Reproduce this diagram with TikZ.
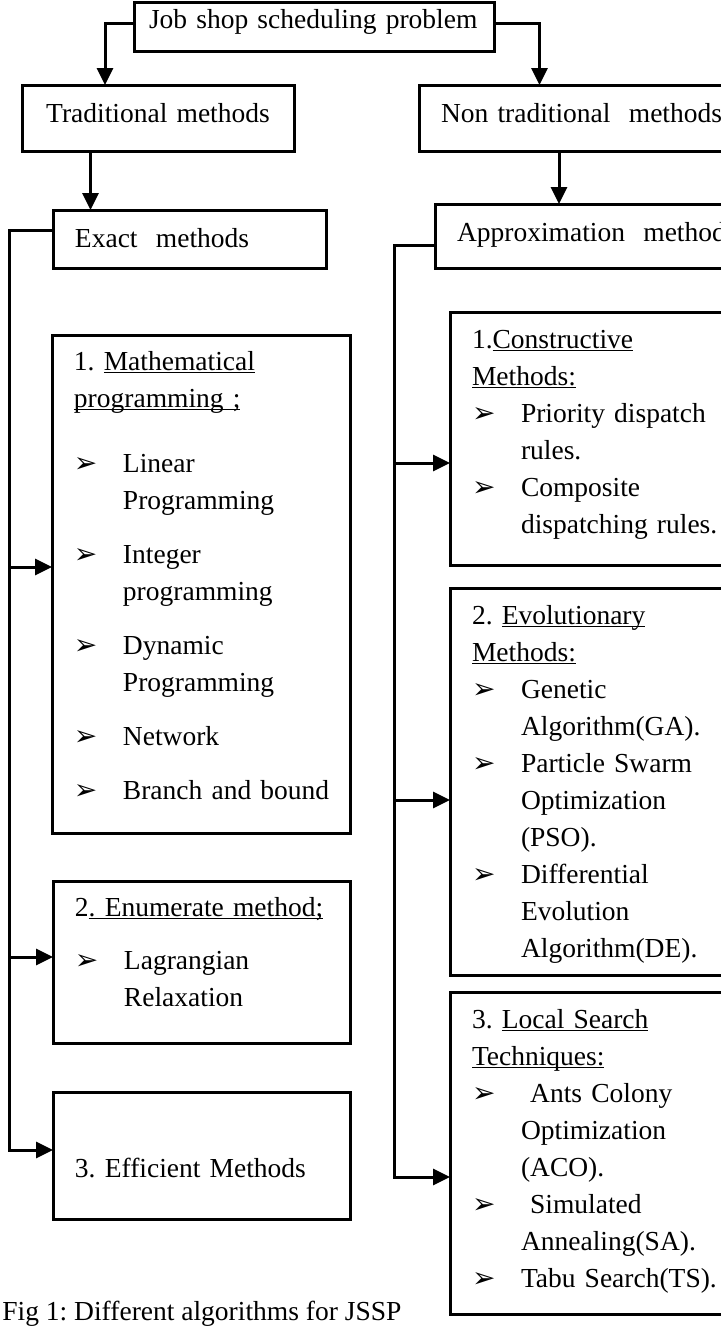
\documentclass[tikz,border=0pt]{standalone}
\usepackage{fontspec}
\setmainfont{Liberation Serif}
\newfontfamily\dingfont{DejaVu Sans}
\usepackage{tikz}
\usetikzlibrary{positioning, arrows.meta, calc}
\newdimen\px
\px=0.5pt
\newcommand{\pnt}{\makebox[49\px][l]{\dingfont\fontsize{14pt}{14pt}\selectfont ➢}}
\newcommand{\ind}{\hspace*{49\px}}
\newcommand{\undl}[1]{\leavevmode\setbox0\hbox{#1}\rlap{\rule[-3\px]{\wd0}{1.5\px}}\box0}
\frenchspacing
\tikzset{
  block/.style={
    draw,
    rectangle,
    line width=1.5pt,
    inner xsep=11pt,
    inner ysep=0pt,
    outer sep=0pt,
    anchor=north west,
    align=left
  },
  link/.style={
    line width=1.5pt,
    -{Triangle[length=8.5pt, width=8pt]}
  }
}

\begin{document}
\begin{tikzpicture}[x=0.5pt, y=-0.5pt, every node/.style={font=\fontsize{13.75pt}{18.5pt}\selectfont}]
    \useasboundingbox (0,0) rectangle (720,1330);

    % top levels
    \node[block, text width=316\px, text height=26\px, text depth=23\px] (problem) at (134,2) {\hspace*{-7\px}\mbox{Job shop scheduling problem}};
    \node[block, align=center, text width=228\px, text height=37\px, text depth=29\px] (trad) at (22,85) {Traditional methods};
    \node[block, text width=297\px, text height=37\px, text depth=29\px] (nontrad) at (419,85) {Non traditional~~methods};
    \node[block, text width=229\px, text height=37\px, text depth=21\px] (exact) at (53,210) {Exact~~methods};
    \node[block, text width=281\px, text height=37\px, text depth=27\px] (approx) at (435,204) {Approximation~~methods};

    % exact methods
    \node[block, text width=254\px, text height=35\px, text depth=463\px] (math) at (52,335) {1. \undl{Mathematical}\\
      \undl{programming ;}\\[14pt]
      \pnt Linear\\
      \ind Programming\\[8.5pt]
      \pnt Integer\\
      \ind programming\\[8.5pt]
      \pnt Dynamic\\
      \ind Programming\\[8.5pt]
      \pnt Network\\[8.5pt]
      \pnt \mbox{Branch and bound}};
    \node[block, text width=253\px, text height=35\px, text depth=127\px] (enum) at (53,881) {\mbox{2\undl{. Enumerate method;}}\\[8pt]
      \pnt Lagrangian\\
      \ind Relaxation};
    \node[block, text width=253\px, text height=85\px, text depth=42\px] (effic) at (53,1092) {3. Efficient Methods};

    % approximation methods
    \node[block, text width=256\px, text height=36\px, text depth=217\px] (constr) at (450,312) {1.\undl{Constructive}\\
      \undl{Methods:}\\
      \pnt \mbox{Priority dispatch}\\
      \ind rules.\\
      \pnt Composite\\
      \ind \mbox{dispatching rules.}};
    \node[block, text width=256\px, text height=36\px, text depth=351\px] (evol) at (450,588) {2. \undl{Evolutionary}\\
      \undl{Methods:}\\
      \pnt Genetic\\
      \ind Algorithm(GA).\\
      \pnt \mbox{Particle Swarm}\\
      \ind Optimization\\
      \ind (PSO).\\
      \pnt Differential\\
      \ind Evolution\\
      \ind Algorithm(DE).};
    \node[block, text width=256\px, text height=36\px, text depth=286\px] (local) at (450,992) {3. \undl{Local Search}\\
      \undl{Techniques:}\\
      \pnt\ \mbox{Ants Colony}\\
      \ind Optimization\\
      \ind (ACO).\\
      \pnt\ Simulated\\
      \ind Annealing(SA).\\
      \pnt \mbox{Tabu Search(TS).}};

    \node[anchor=base west, inner sep=0pt] (caption) at (2,1320) {Fig 1: Different algorithms for JSSP};

    % arrow ends
    \coordinate (mathin) at ([yshift=8.5pt]math.west);
    \coordinate (enumin) at ([yshift=2.5pt]enum.west);
    \coordinate (efficin) at ([yshift=2.75pt]effic.west);
    \coordinate (constrin) at ([yshift=-12.25pt]constr.west);
    \coordinate (evolin) at ([yshift=-9.25pt]evol.west);
    \coordinate (localin) at ([yshift=-12pt]local.west);

    \draw[link] ([yshift=1.5pt]problem.west) -| ([xshift=-26.5pt]trad.north);
    \draw[link] ([yshift=1.5pt]problem.east) -| ([xshift=-25pt]nontrad.north);
    \draw[link] ([xshift=-33.75pt]trad.south) coordinate (tdown) -- (tdown |- exact.north);
    \draw[link] ([xshift=-15.25pt]nontrad.south) coordinate (ndown) -- (ndown |- approx.north);

    \draw[link] ([yshift=4.5pt]exact.west) -- ++(-22pt,0) coordinate (ltop) |- (efficin);
    \draw[link] (ltop |- mathin) -- (mathin);
    \draw[link] (ltop |- enumin) -- (enumin);

    \draw[link] ([yshift=-4.5pt]approx.west) -- ++(-20.5pt,0) coordinate (rtop) |- (localin);
    \draw[link] (rtop |- constrin) -- (constrin);
    \draw[link] (rtop |- evolin) -- (evolin);
\end{tikzpicture}
\end{document}
